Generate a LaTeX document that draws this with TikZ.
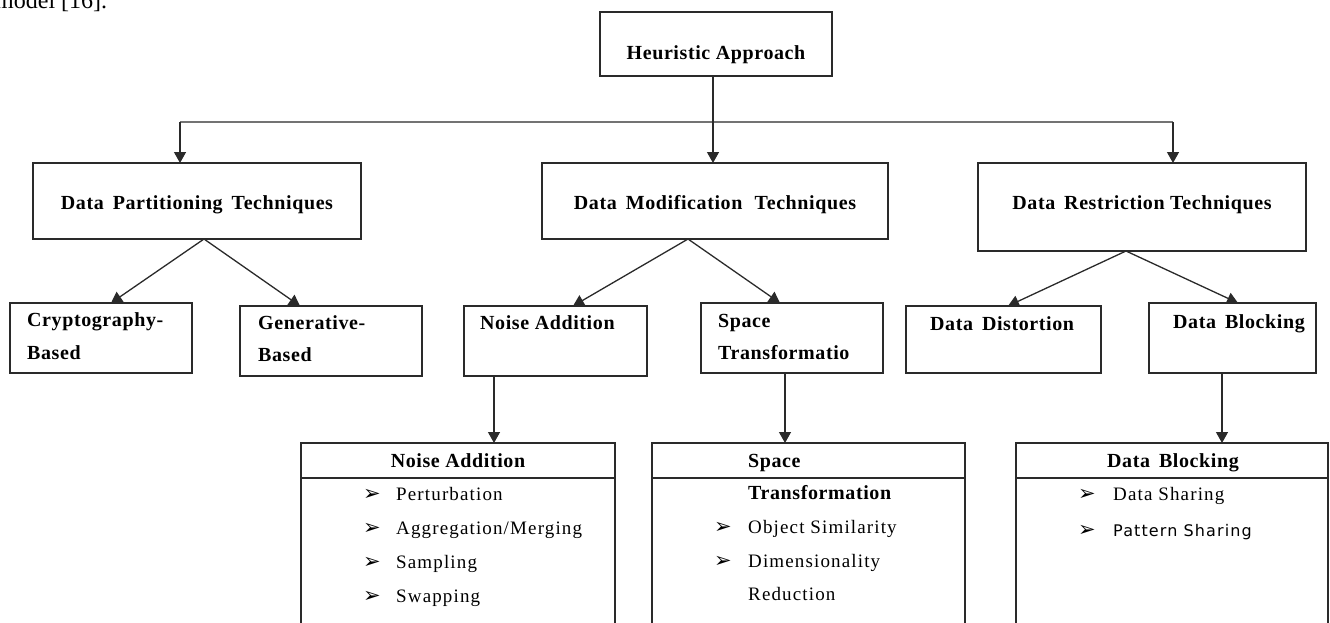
\documentclass[tikz,border=0pt]{standalone}
\usepackage{fontspec}
\usetikzlibrary{arrows.meta}
\setmainfont{Liberation Serif}
\newfontfamily\hbf[LetterSpace=3]{Liberation Serif}
\newfontfamily\hrm[LetterSpace=6]{Liberation Serif}
\newfontfamily\hsans[LetterSpace=7]{DejaVu Sans}
\newfontfamily\hsym{DejaVu Sans}
\definecolor{ln}{HTML}{2A2A2A}
\newcommand{\boxat}[5]{%
  \pgfmathsetmacro\mybw{#4-#2}\pgfmathsetmacro\mybh{#5-#3}%
  \node[box,minimum width=\mybw pt,minimum height=\mybh pt] (#1) at ({(#2+#4)/2},{(#3+#5)/2}) {};}
\tikzset{
  box/.style={draw=ln,line width=1.3pt,inner sep=0pt,outer sep=0pt,fill=white},
  arr/.style={draw=ln,line width=1.3pt,-{Triangle[width=12pt,length=11pt]}},
  ttl/.style={inner sep=0pt,font=\hbf\bfseries\fontsize{20}{22}\selectfont},
  itm/.style={inner sep=0pt,anchor=base west,font=\hrm\fontsize{19}{21}\selectfont},
  bul/.style={inner sep=0pt,anchor=base west,font=\hsym\fontsize{21}{23}\selectfont},
}
\begin{document}
\begin{tikzpicture}[x=1pt,y=-1pt]
\useasboundingbox (0,0) rectangle (1330,622);
\node[inner sep=0pt,anchor=base west,font=\fontsize{24}{26}\selectfont] (cap) at (-5,8) {model [16].};
% level 1
\boxat{ha}{600}{12}{832}{76}
\node[ttl,anchor=base] (tha) at (716,59) {Heuristic Approach};
% level 2
\boxat{dp}{33}{163}{361}{239}
\boxat{dm}{542}{163}{888}{239}
\boxat{dr}{978}{163}{1306}{251}
\node[ttl,anchor=base] (tdp) at (197,209) {Data\, Partitioning\, Techniques};
\node[ttl,anchor=base] (tdm) at (715,209) {Data\, Modification\,\, Techniques};
\node[ttl,anchor=base] (tdr) at (1142,209) {Data\, Restriction Techniques};
% level 3
\boxat{cb}{10}{303}{192}{373}
\boxat{gb}{240}{306}{422}{376}
\boxat{na}{464}{306}{647}{376}
\boxat{st}{701}{303}{883}{373}
\boxat{dd}{906}{306}{1101}{373}
\boxat{db}{1149}{303}{1316}{373}
\node[ttl,anchor=base west] (tcb1) at (27,326) {Cryptography-};
\node[ttl,anchor=base west] (tcb2) at (27,359) {Based};
\node[ttl,anchor=base west] (tgb1) at (258,329) {Generative-};
\node[ttl,anchor=base west] (tgb2) at (258,361) {Based};
\node[ttl,anchor=base west] (tna) at (480,329) {Noise Addition};
\node[ttl,anchor=base west] (tst1) at (718,327) {Space};
\node[ttl,anchor=base west] (tst2) at (718,359) {Transformatio};
\node[ttl,anchor=base west] (tdd) at (930,330) {Data\, Distortion};
\node[ttl,anchor=base west] (tdb) at (1173,328) {Data\, Blocking};
% level 4
\boxat{nb}{301}{443}{615}{660}
\boxat{sb}{652}{443}{965}{660}
\boxat{bb}{1016}{443}{1328}{660}
\draw[draw=ln,line width=1.3pt] ([yshift=-35pt]nb.north west) -- ([yshift=-35pt]nb.north east);
\draw[draw=ln,line width=1.3pt] ([yshift=-35pt]sb.north west) -- ([yshift=-35pt]sb.north east);
\draw[draw=ln,line width=1.3pt] ([yshift=-35pt]bb.north west) -- ([yshift=-35pt]bb.north east);
\node[ttl,anchor=base] (tnb) at (458,467) {Noise Addition};
\node[ttl,anchor=base west] (tsb1) at (748,467) {Space};
\node[ttl,anchor=base west] (tsb2) at (748,499) {Transformation};
\node[ttl,anchor=base] (tbb) at (1173,467) {Data\, Blocking};
% items
\node[bul] (b1) at (363,500) {➢};
\node[itm] (i1) at (396,500) {Perturbation};
\node[bul] (b2) at (363,534) {➢};
\node[itm] (i2) at (396,534) {Aggregation/Merging};
\node[bul] (b3) at (363,568) {➢};
\node[itm] (i3) at (396,568) {Sampling};
\node[bul] (b4) at (363,602) {➢};
\node[itm] (i4) at (396,602) {Swapping};
\node[bul] (b5) at (714,533) {➢};
\node[itm] (i5) at (748,533) {Object Similarity};
\node[bul] (b6) at (714,567) {➢};
\node[itm] (i6) at (748,567) {Dimensionality};
\node[itm] (i7) at (748,600) {Reduction};
\node[bul] (b8) at (1078,500) {➢};
\node[itm] (i8) at (1113,500) {Data Sharing};
\node[bul] (b9) at (1078,536) {➢};
\node[itm,font=\hsans\fontsize{16}{18}\selectfont] (i9) at (1113,536) {Pattern Sharing};
% connectors level 1 -> 2
\coordinate (hl) at (180,122);
\coordinate (hr) at (1173,122);
\draw[draw=gray!90!black,line width=2pt] (hl) -- (hr);
\draw[arr] (hl) -- (hl |- dp.north);
\draw[arr] (hr) -- (hr |- dr.north);
\draw[arr] ([xshift=-3pt]ha.south) -- ([xshift=-3pt]ha.south |- dm.north);
% level 2 -> 3
\draw[arr] ([xshift=7pt]dp.south) -- ([xshift=10pt]cb.north);
\draw[arr] ([xshift=7pt]dp.south) -- ([xshift=-31pt]gb.north);
\draw[arr] ([xshift=-27pt]dm.south) -- ([xshift=17.5pt]na.north);
\draw[arr] ([xshift=-27pt]dm.south) -- ([xshift=-12pt]st.north);
\draw[arr] ([xshift=-16pt]dr.south) -- ([xshift=4.5pt]dd.north);
\draw[arr] ([xshift=-16pt]dr.south) -- ([xshift=5.5pt]db.north);
% level 3 -> 4
\draw[arr] ([xshift=-61.5pt]na.south) -- ([xshift=-61.5pt]na.south |- nb.north);
\draw[arr] ([xshift=-7pt]st.south) -- ([xshift=-7pt]st.south |- sb.north);
\draw[arr] ([xshift=-10.5pt]db.south) -- ([xshift=-10.5pt]db.south |- bb.north);
\end{tikzpicture}
\end{document}
